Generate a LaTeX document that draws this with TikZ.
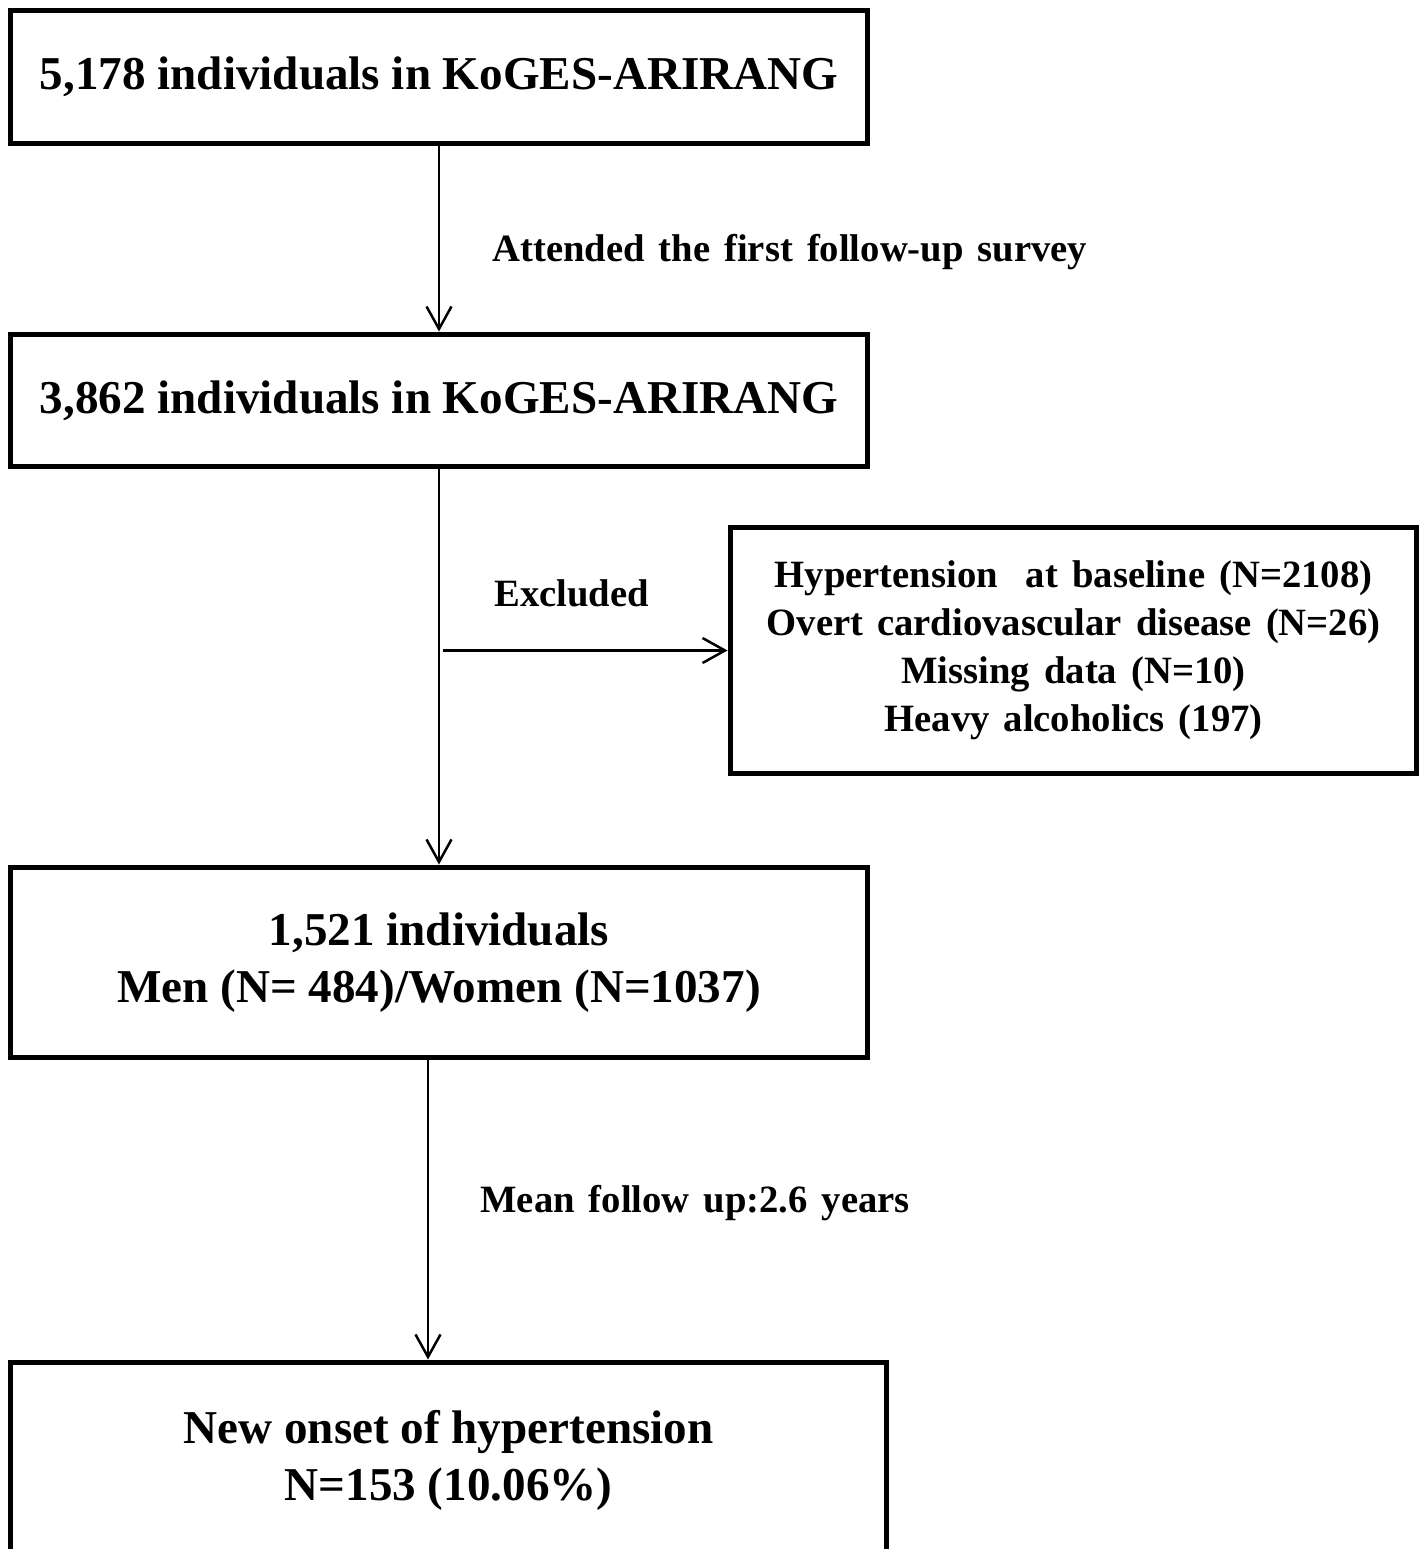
\documentclass[tikz,border=0pt]{standalone}
\usepackage{fontspec}
\setmainfont{Liberation Serif}
\newfontfamily\notefont{Liberation Serif}[WordSpace=1.45]
\usetikzlibrary{arrows.meta}
\usetikzlibrary{calc}

\begin{document}
\begin{tikzpicture}[x=0.02cm, y=-0.02cm,
    >={Straight Barb[length=0.45cm, width=0.5cm]},
    box/.style={draw, line width=0.1cm, inner sep=0pt, align=center,
      font=\fontsize{26.8}{32.4}\selectfont\bfseries},
    note/.style={inner sep=0pt, align=center,
      font=\notefont\fontsize{22}{27.3}\selectfont\bfseries},
    flow/.style={->, line width=0.05cm}]
      \useasboundingbox (0,0) rectangle (1424,1549);

      \node at (439,77)
      [box, minimum width=17.16cm, minimum height=2.68cm, name=all]
      {5,178 individuals in KoGES-ARIRANG};

      \node at (439,400.5)
      [box, minimum width=17.16cm, minimum height=2.66cm, name=follow]
      {3,862 individuals in KoGES-ARIRANG};

      \node at (1073.5,650.5)
      [box, minimum width=13.74cm, minimum height=4.94cm, name=excl,
      font=\notefont\fontsize{22}{27.3}\selectfont\bfseries]
      {Hypertension \ at baseline (N=2108)\\
       Overt cardiovascular disease (N=26)\\
       Missing data (N=10)\\
       Heavy alcoholics (197)};

      \node at (439,962.5)
      [box, minimum width=17.16cm, minimum height=3.82cm, name=cohort]
      {1,521 individuals\\Men (N= 484)/Women (N=1037)};

      % bottom edge runs off the page
      \node at (448.5,1460)
      [box, minimum width=17.54cm, minimum height=3.92cm, name=onset]
      {New onset of hypertension\\N=153 (10.06\%)};

      % labels beside the arrows
      \node at (492,252) [note, anchor=west, name=attended]
      {Attended the first follow-up survey};
      \node at (494,593) [note, anchor=west, name=excluded] {Excluded};
      \node at (480,1203) [note, anchor=west, name=mean]
      {Mean follow up:2.6 years};

      \draw [flow] (all) -- (follow);
      \draw [flow] (follow) -- (follow.south |- cohort.north);
      \draw [flow] ($(follow.south |- excl.west) + (4,0)$) -- (excl.west);

      \coordinate (down) at ($(cohort.south) + (-11,0)$);
      \draw [flow] (down) -- (down |- onset.north);
\end{tikzpicture}
\end{document}
